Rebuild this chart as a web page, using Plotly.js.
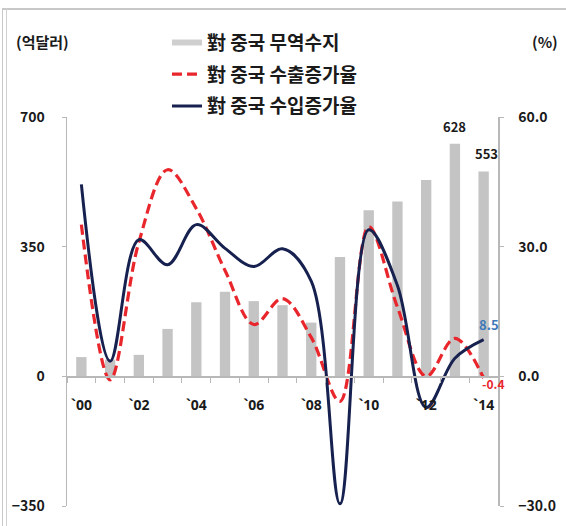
<!DOCTYPE html>
<html>
<head>
<meta charset="utf-8">
<script src="https://cdn.plot.ly/plotly-3.0.1.min.js"></script>
<style>
  html, body { margin: 0; padding: 0; background: #fff; width: 566px; height: 526px; overflow: hidden; }
  #frame1 { position: absolute; left: 2px; top: 8px; width: 700px; height: 700px; border-left: 1px solid #c8c8c8; border-top: 2px solid #c8c8c8; }
  #frame2 { position: absolute; left: 6px; top: 8px; width: 700px; height: 700px; border-left: 1px solid #d0d0d0; }
  #chart { position: absolute; left: 0; top: 0; width: 566px; height: 526px; }
</style>
</head>
<body>
<div id="frame1"></div>
<div id="frame2"></div>
<div id="chart"></div>
<script>
// ---- data ----
const years = ['`00','`01','`02','`03','`04','`05','`06','`07','`08','`09','`10','`11','`12','`13','`14'];
const tickLabels = ['`00','','`02','','`04','','`06','','`08','','`10','','`12','','`14'];
const tradeBalance = [52, 45, 58, 128, 200, 228, 203, 192, 145, 322, 448, 472, 530, 628, 553];   // 억달러
const exportGrowth = [35.1, -0.8, 31.0, 47.8, 38.8, 24.5, 12.0, 18.0, 9.0, -5.8, 34.6, 16.0, 0.0, 8.8, -0.4]; // %
const importGrowth = [44.4, 3.5, 31.6, 25.8, 35.1, 29.6, 25.4, 29.5, 22.0, -29.5, 33.9, 21.0, -7.2, 4.2, 8.5];  // %
const seriesNames = ['對 중국 무역수지', '對 중국 수출증가율', '對 중국 수입증가율'];

const FONT = '"Noto Sans CJK KR", "Noto Sans", sans-serif';
const NUMFONT = '"Noto Sans", "Liberation Sans", sans-serif';
const TXT = '#1a1a1a';
const AX = '#b8b8b8';
const RED = '#e8262c';
const NAVY = '#17214f';
const GRAY = '#c4c4c4';

const traces = [
  { type: 'bar', x: years, y: tradeBalance, name: seriesNames[0], marker: { color: GRAY },
    width: 0.36, showlegend: false, hoverinfo: 'skip', yaxis: 'y' },
  // legend-only proxy for the bar series (wide gray swatch)
  { type: 'scatter', mode: 'lines', x: [null], y: [null], name: seriesNames[0],
    line: { color: '#cfcfcf', width: 6 }, legendgroup: 'g1', yaxis: 'y' },
  { type: 'scatter', mode: 'lines', x: years, y: exportGrowth, name: seriesNames[1], yaxis: 'y2',
    line: { color: RED, width: 3.2, dash: '10px,5px', shape: 'spline', smoothing: 1 }, legendgroup: 'g2' },
  { type: 'scatter', mode: 'lines', x: years, y: importGrowth, name: seriesNames[2], yaxis: 'y2',
    line: { color: NAVY, width: 3, shape: 'spline', smoothing: 1 }, legendgroup: 'g3' }
];

const layout = {
  width: 566, height: 526,
  margin: { l: 67, r: 68, t: 117, b: 20 },
  paper_bgcolor: 'rgba(0,0,0,0)',
  plot_bgcolor: 'rgba(0,0,0,0)',
  font: { family: FONT, color: TXT },
  showlegend: true,
  legend: {
    x: 0.232, y: 1.24, xanchor: 'left', yanchor: 'top',
    font: { family: FONT, size: 19, color: TXT, weight: 'bold' },
    tracegroupgap: 4, bgcolor: 'rgba(0,0,0,0)', itemclick: false
  },
  bargap: 0.6,
  xaxis: {
    type: 'category', categoryorder: 'array', categoryarray: years,
    range: [-0.5, 14.5],
    anchor: 'free', position: 1/3,
    showline: true, linecolor: AX, linewidth: 1.5,
    ticks: 'outside', tickson: 'boundaries', ticklen: 5, tickcolor: AX,
    tickmode: 'array', tickvals: years, ticktext: tickLabels, tickangle: 0,
    ticklabelstandoff: 15,
    tickfont: { family: NUMFONT, size: 14, color: TXT, weight: 'bold' },
    showgrid: false, zeroline: false, fixedrange: true
  },
  yaxis: {
    range: [-350, 700], tickvals: [-350, 0, 350, 700],
    showline: true, linecolor: AX, linewidth: 1.5,
    ticks: 'outside', ticklen: 4, tickcolor: AX,
    ticklabelstandoff: 14,
    tickfont: { family: FONT, size: 14, color: TXT, weight: 'bold' },
    showgrid: false, zeroline: false, fixedrange: true
  },
  yaxis2: {
    overlaying: 'y', side: 'right',
    range: [-30, 60], tickvals: [-30, 0, 30, 60], tickformat: '.1f',
    showline: true, linecolor: AX, linewidth: 1.5,
    ticks: 'outside', ticklen: 4, tickcolor: AX,
    ticklabelstandoff: 12,
    tickfont: { family: FONT, size: 14, color: TXT, weight: 'bold' },
    showgrid: false, zeroline: false, fixedrange: true
  },
  annotations: [
    { xref: 'paper', yref: 'paper', x: -0.122, y: 1.193, xanchor: 'left', yanchor: 'middle',
      text: '(억달러)', showarrow: false, font: { family: FONT, size: 15, color: TXT, weight: 'bold' } },
    { xref: 'paper', yref: 'paper', x: 1.074, y: 1.193, xanchor: 'left', yanchor: 'middle',
      text: '(%)', showarrow: false, font: { family: FONT, size: 15, color: TXT, weight: 'bold' } },
    { xref: 'x', yref: 'y', x: years[13], y: tradeBalance[13], yanchor: 'bottom', yshift: 6,
      text: String(tradeBalance[13]), showarrow: false, font: { family: FONT, size: 13, color: TXT, weight: 'bold' } },
    { xref: 'x', yref: 'y', x: years[14], y: tradeBalance[14], yanchor: 'bottom', yshift: 6, xshift: 3,
      text: String(tradeBalance[14]), showarrow: false, font: { family: FONT, size: 13, color: TXT, weight: 'bold' } },
    { xref: 'x', yref: 'y2', x: years[14], y: importGrowth[14], yanchor: 'bottom', yshift: 4, xshift: 5,
      text: importGrowth[14].toFixed(1), showarrow: false, font: { family: FONT, size: 13, color: '#3d79b8', weight: 'bold' } },
    { xref: 'x', yref: 'y2', x: years[14], y: exportGrowth[14], yanchor: 'top', yshift: 4, xshift: 10,
      text: exportGrowth[14].toFixed(1), showarrow: false, borderpad: 0,
      font: { family: FONT, size: 12, color: RED, weight: 'bold' } }
  ]
};

Plotly.newPlot('chart', traces, layout, { staticPlot: true, displayModeBar: false });
</script>
</body>
</html>
